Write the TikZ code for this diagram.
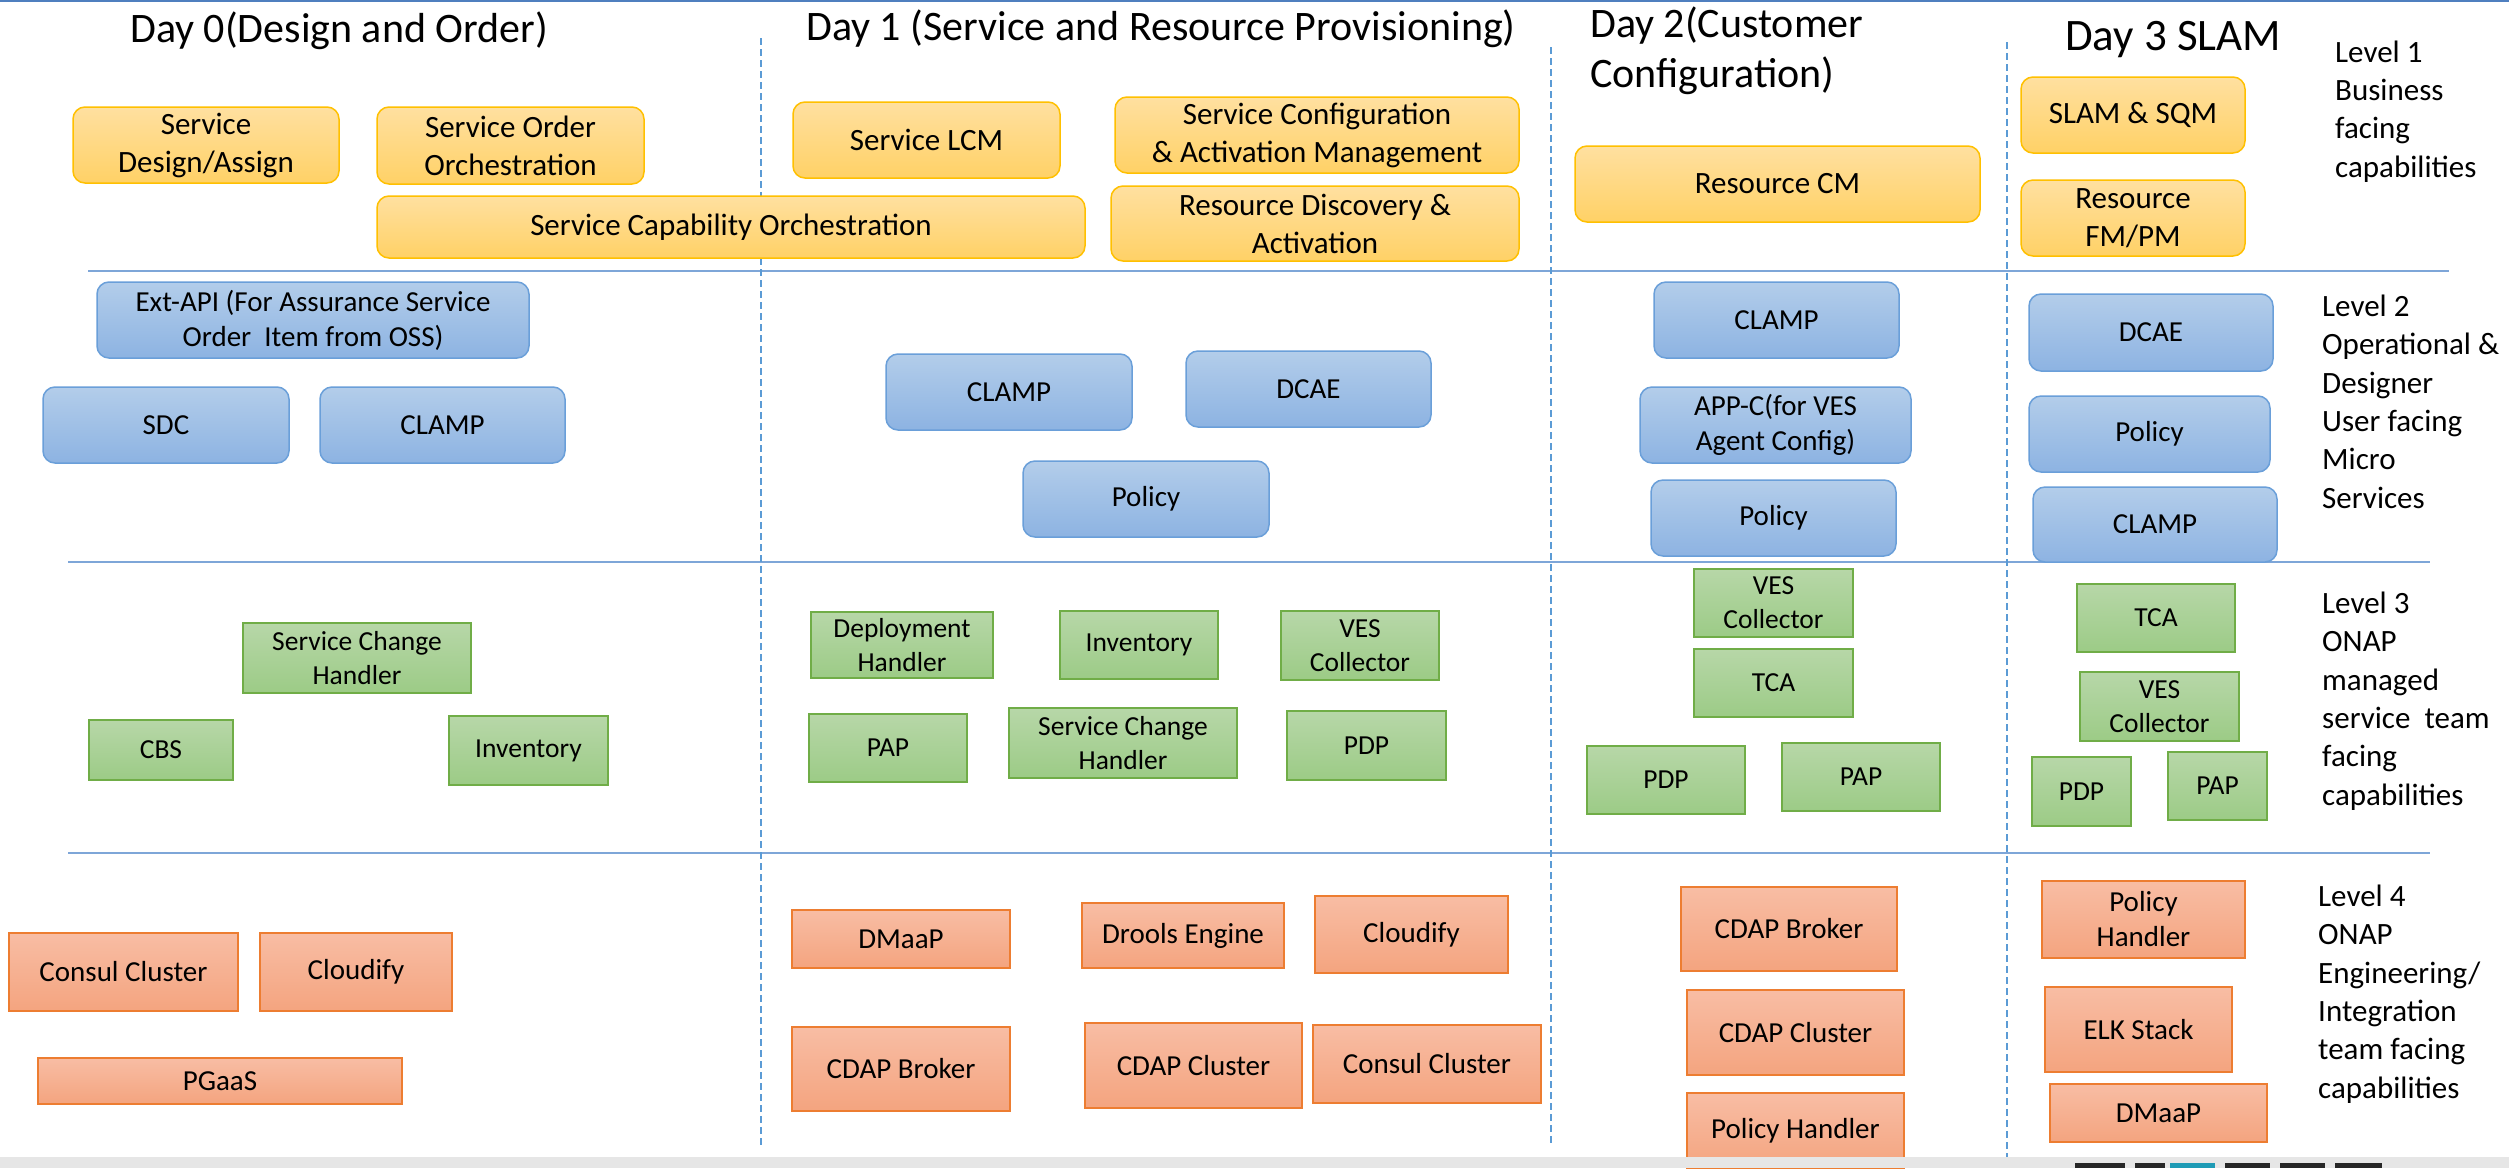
\documentclass[tikz,border=0pt]{standalone}
\usepackage{fontspec}
\setmainfont{Carlito}
\definecolor{ytop}{HTML}{FFE0A0}
\definecolor{ybot}{HTML}{FFD166}
\definecolor{yedge}{HTML}{FFC000}
\definecolor{btop}{HTML}{B3CDEA}
\definecolor{bbot}{HTML}{8DB3E2}
\definecolor{bedge}{HTML}{6A9FD9}
\definecolor{gtop}{HTML}{B7D7A8}
\definecolor{gbot}{HTML}{9CCB86}
\definecolor{gedge}{HTML}{70AD47}
\definecolor{otop}{HTML}{F8BDA4}
\definecolor{obot}{HTML}{F4A47F}
\definecolor{oedge}{HTML}{ED7D31}
\definecolor{sepline}{HTML}{7EA6D8}
\definecolor{dashline}{HTML}{5B9BD5}
\definecolor{topline}{HTML}{4F7FBF}
\definecolor{barfill}{HTML}{E6E6E6}
\definecolor{logoteal}{HTML}{1E9BB5}
\tikzset{
  basebox/.style={inner sep=0pt, align=center, text=black},
  ybox/.style={basebox, rounded corners=12pt, draw=yedge, line width=1.5pt, top color=ytop, bottom color=ybot, font=\fontsize{31}{38}\selectfont},
  bbox/.style={basebox, rounded corners=12pt, draw=bedge, line width=1.5pt, top color=btop, bottom color=bbot, font=\fontsize{29}{35}\selectfont},
  gbox/.style={basebox, draw=gedge, line width=1.5pt, top color=gtop, bottom color=gbot, font=\fontsize{27.5}{34}\selectfont},
  obox/.style={basebox, draw=oedge, line width=1.5pt, top color=otop, bottom color=obot, font=\fontsize{29}{35}\selectfont},
  hdr/.style={inner sep=0pt, align=left, font=\fontsize{42}{50}\selectfont},
  lvl/.style={inner sep=0pt, align=left, font=\fontsize{31}{38.3}\selectfont},
  sep/.style={draw=sepline, line width=2.5pt},
  daysep/.style={draw=dashline, line width=1.5pt, dash pattern=on 7pt off 4pt}
}
\newcommand\mybox[7]{\node[#1, minimum width={(#4)-(#2)}, minimum height={(#5)-(#3)}] (#6) at ({((#2)+(#4))/2},{((#3)+(#5))/2}) {#7};}
\begin{document}
\begin{tikzpicture}[x=1pt,y=-1pt]
\useasboundingbox (0,0) rectangle (2509,1168);
\fill[white] (0,0) rectangle (2509,1168);
% top border
\draw[topline, line width=2pt] (0,1) -- (2509,1);
% separators
\draw[sep] (88,271) -- (2449,271);
\draw[sep] (68,562) -- (2430,562);
\draw[sep] (68,853) -- (2430,853);
\draw[daysep] (761,38) -- (761,1145);
\draw[daysep] (1551,47) -- (1551,1145);
\draw[daysep] (2007,42) -- (2007,1162);
% headers
\node[hdr, anchor=base west] (d0) at (130,42) {Day 0(Design and Order)};
\node[hdr, anchor=base west] (d1) at (806,40) {Day 1 (Service and Resource Provisioning)};
\node[hdr, anchor=base west] (d2a) at (1590,37) {Day 2(Customer};
\node[hdr, anchor=base west] (d2b) at (1590,87) {Configuration)};
\node[hdr, anchor=base west, font=\fontsize{45}{52}\selectfont] (d3) at (2065,50) {Day 3 SLAM};
% level labels (anchor = baseline of the last line)
\node[lvl, anchor=base west] (lv1) at (2335,177) {Level 1\\Business\\facing\\capabilities};
\node[lvl, anchor=base west] (lv2) at (2322,508) {Level 2\\Operational \&\\Designer\\User facing\\Micro\\Services};
\node[lvl, anchor=base west] (lv3) at (2322,805) {Level 3\\ONAP\\managed\\service\ \ team\\facing\\capabilities};
\node[lvl, anchor=base west] (lv4) at (2318,1098) {Level 4\\ONAP\\Engineering/\\Integration\\team facing\\capabilities};
% level 1 (yellow)
\mybox{ybox}{73}{107}{339}{183}{ysda}{Service\\Design/Assign}
\mybox{ybox}{377}{107}{644}{184}{ysoo}{Service Order\\Orchestration}
\mybox{ybox}{377}{196}{1085}{258}{ysco}{Service Capability Orchestration}
\mybox{ybox}{793}{102}{1060}{178}{yslcm}{Service LCM}
\mybox{ybox}{1115}{97}{1519}{173}{yscam}{Service Configuration\\\& Activation Management}
\mybox{ybox}{1111}{186}{1519}{261}{yrda}{Resource Discovery \&\\Activation}
\mybox{ybox}{1575}{146}{1980}{222}{yrcm}{Resource CM}
\mybox{ybox}{2021}{77}{2245}{153}{yslam}{SLAM \& SQM}
\mybox{ybox}{2021}{180}{2245}{256}{yrfm}{Resource\\FM/PM}
% level 2 (blue)
\mybox{bbox}{97}{282}{529}{358}{bext}{Ext-API (For Assurance Service\\Order\ \ Item from OSS)}
\mybox{bbox}{43}{387}{289}{463}{bsdc}{SDC}
\mybox{bbox}{320}{387}{565}{463}{bclamp0}{CLAMP}
\mybox{bbox}{886}{354}{1132}{430}{bclamp1}{CLAMP}
\mybox{bbox}{1186}{351}{1431}{427}{bdcae1}{DCAE}
\mybox{bbox}{1023}{461}{1269}{537}{bpol1}{Policy}
\mybox{bbox}{1654}{282}{1899}{358}{bclamp2}{CLAMP}
\mybox{bbox}{1640}{387}{1911}{463}{bappc}{APP-C(for VES\\Agent Config)}
\mybox{bbox}{1651}{480}{1896}{556}{bpol2}{Policy}
\mybox{bbox}{2029}{294}{2273}{371}{bdcae3}{DCAE}
\mybox{bbox}{2029}{396}{2270}{472}{bpol3}{Policy}
\mybox{bbox}{2033}{487}{2277}{562}{bclamp3}{CLAMP}
% level 3 (green)
\mybox{gbox}{243}{623}{471}{693}{gsch0}{Service Change\\Handler}
\mybox{gbox}{89}{720}{233}{780}{gcbs}{CBS}
\mybox{gbox}{449}{716}{608}{785}{ginv0}{Inventory}
\mybox{gbox}{811}{612}{993}{678}{gdh}{Deployment\\Handler}
\mybox{gbox}{1060}{611}{1218}{679}{ginv1}{Inventory}
\mybox{gbox}{1281}{611}{1439}{680}{gves1}{VES\\Collector}
\mybox{gbox}{809}{714}{967}{782}{gpap1}{PAP}
\mybox{gbox}{1009}{708}{1237}{778}{gsch1}{Service Change\\Handler}
\mybox{gbox}{1287}{711}{1446}{780}{gpdp1}{PDP}
\mybox{gbox}{1694}{569}{1853}{637}{gves2}{VES\\Collector}
\mybox{gbox}{1694}{649}{1853}{717}{gtca2}{TCA}
\mybox{gbox}{1587}{746}{1745}{814}{gpdp2}{PDP}
\mybox{gbox}{1782}{743}{1940}{811}{gpap2}{PAP}
\mybox{gbox}{2077}{584}{2235}{652}{gtca3}{TCA}
\mybox{gbox}{2080}{672}{2239}{741}{gves3}{VES\\Collector}
\mybox{gbox}{2032}{757}{2131}{826}{gpdp3}{PDP}
\mybox{gbox}{2168}{752}{2267}{820}{gpap3}{PAP}
% level 4 (orange)
\mybox{obox}{9}{933}{238}{1011}{ocons0}{Consul Cluster}
\mybox{obox}{260}{933}{452}{1011}{oclou0}{Cloudify}
\mybox{obox}{38}{1058}{402}{1104}{opgaas}{PGaaS}
\mybox{obox}{792}{910}{1010}{968}{odmaap1}{DMaaP}
\mybox{obox}{1082}{903}{1284}{968}{odrools}{Drools Engine}
\mybox{obox}{1315}{896}{1508}{973}{oclou1}{Cloudify}
\mybox{obox}{792}{1027}{1010}{1111}{ocdapb1}{CDAP Broker}
\mybox{obox}{1085}{1023}{1302}{1108}{ocdapc1}{CDAP Cluster}
\mybox{obox}{1313}{1025}{1541}{1103}{ocons1}{Consul Cluster}
\mybox{obox}{1681}{887}{1897}{971}{ocdapb2}{CDAP Broker}
\mybox{obox}{1687}{990}{1904}{1075}{ocdapc2}{CDAP Cluster}
\mybox{obox}{1687}{1093}{1904}{1169}{oph2}{Policy Handler}
\mybox{obox}{2042}{881}{2245}{958}{oph3}{Policy\\Handler}
\mybox{obox}{2045}{987}{2232}{1072}{oelk}{ELK Stack}
\mybox{obox}{2050}{1084}{2267}{1142}{odmaap3}{DMaaP}
% bottom bar
\fill[barfill] (0,1157) rectangle (2509,1168);
\fill[black!85] (2075,1163) rectangle (2125,1168);
\fill[black!85] (2135,1163) rectangle (2165,1168);
\fill[logoteal] (2170,1163) rectangle (2215,1168);
\fill[black!85] (2225,1163) rectangle (2270,1168);
\fill[black!85] (2280,1163) rectangle (2325,1168);
\fill[black!85] (2335,1163) rectangle (2382,1168);
\end{tikzpicture}
\end{document}
